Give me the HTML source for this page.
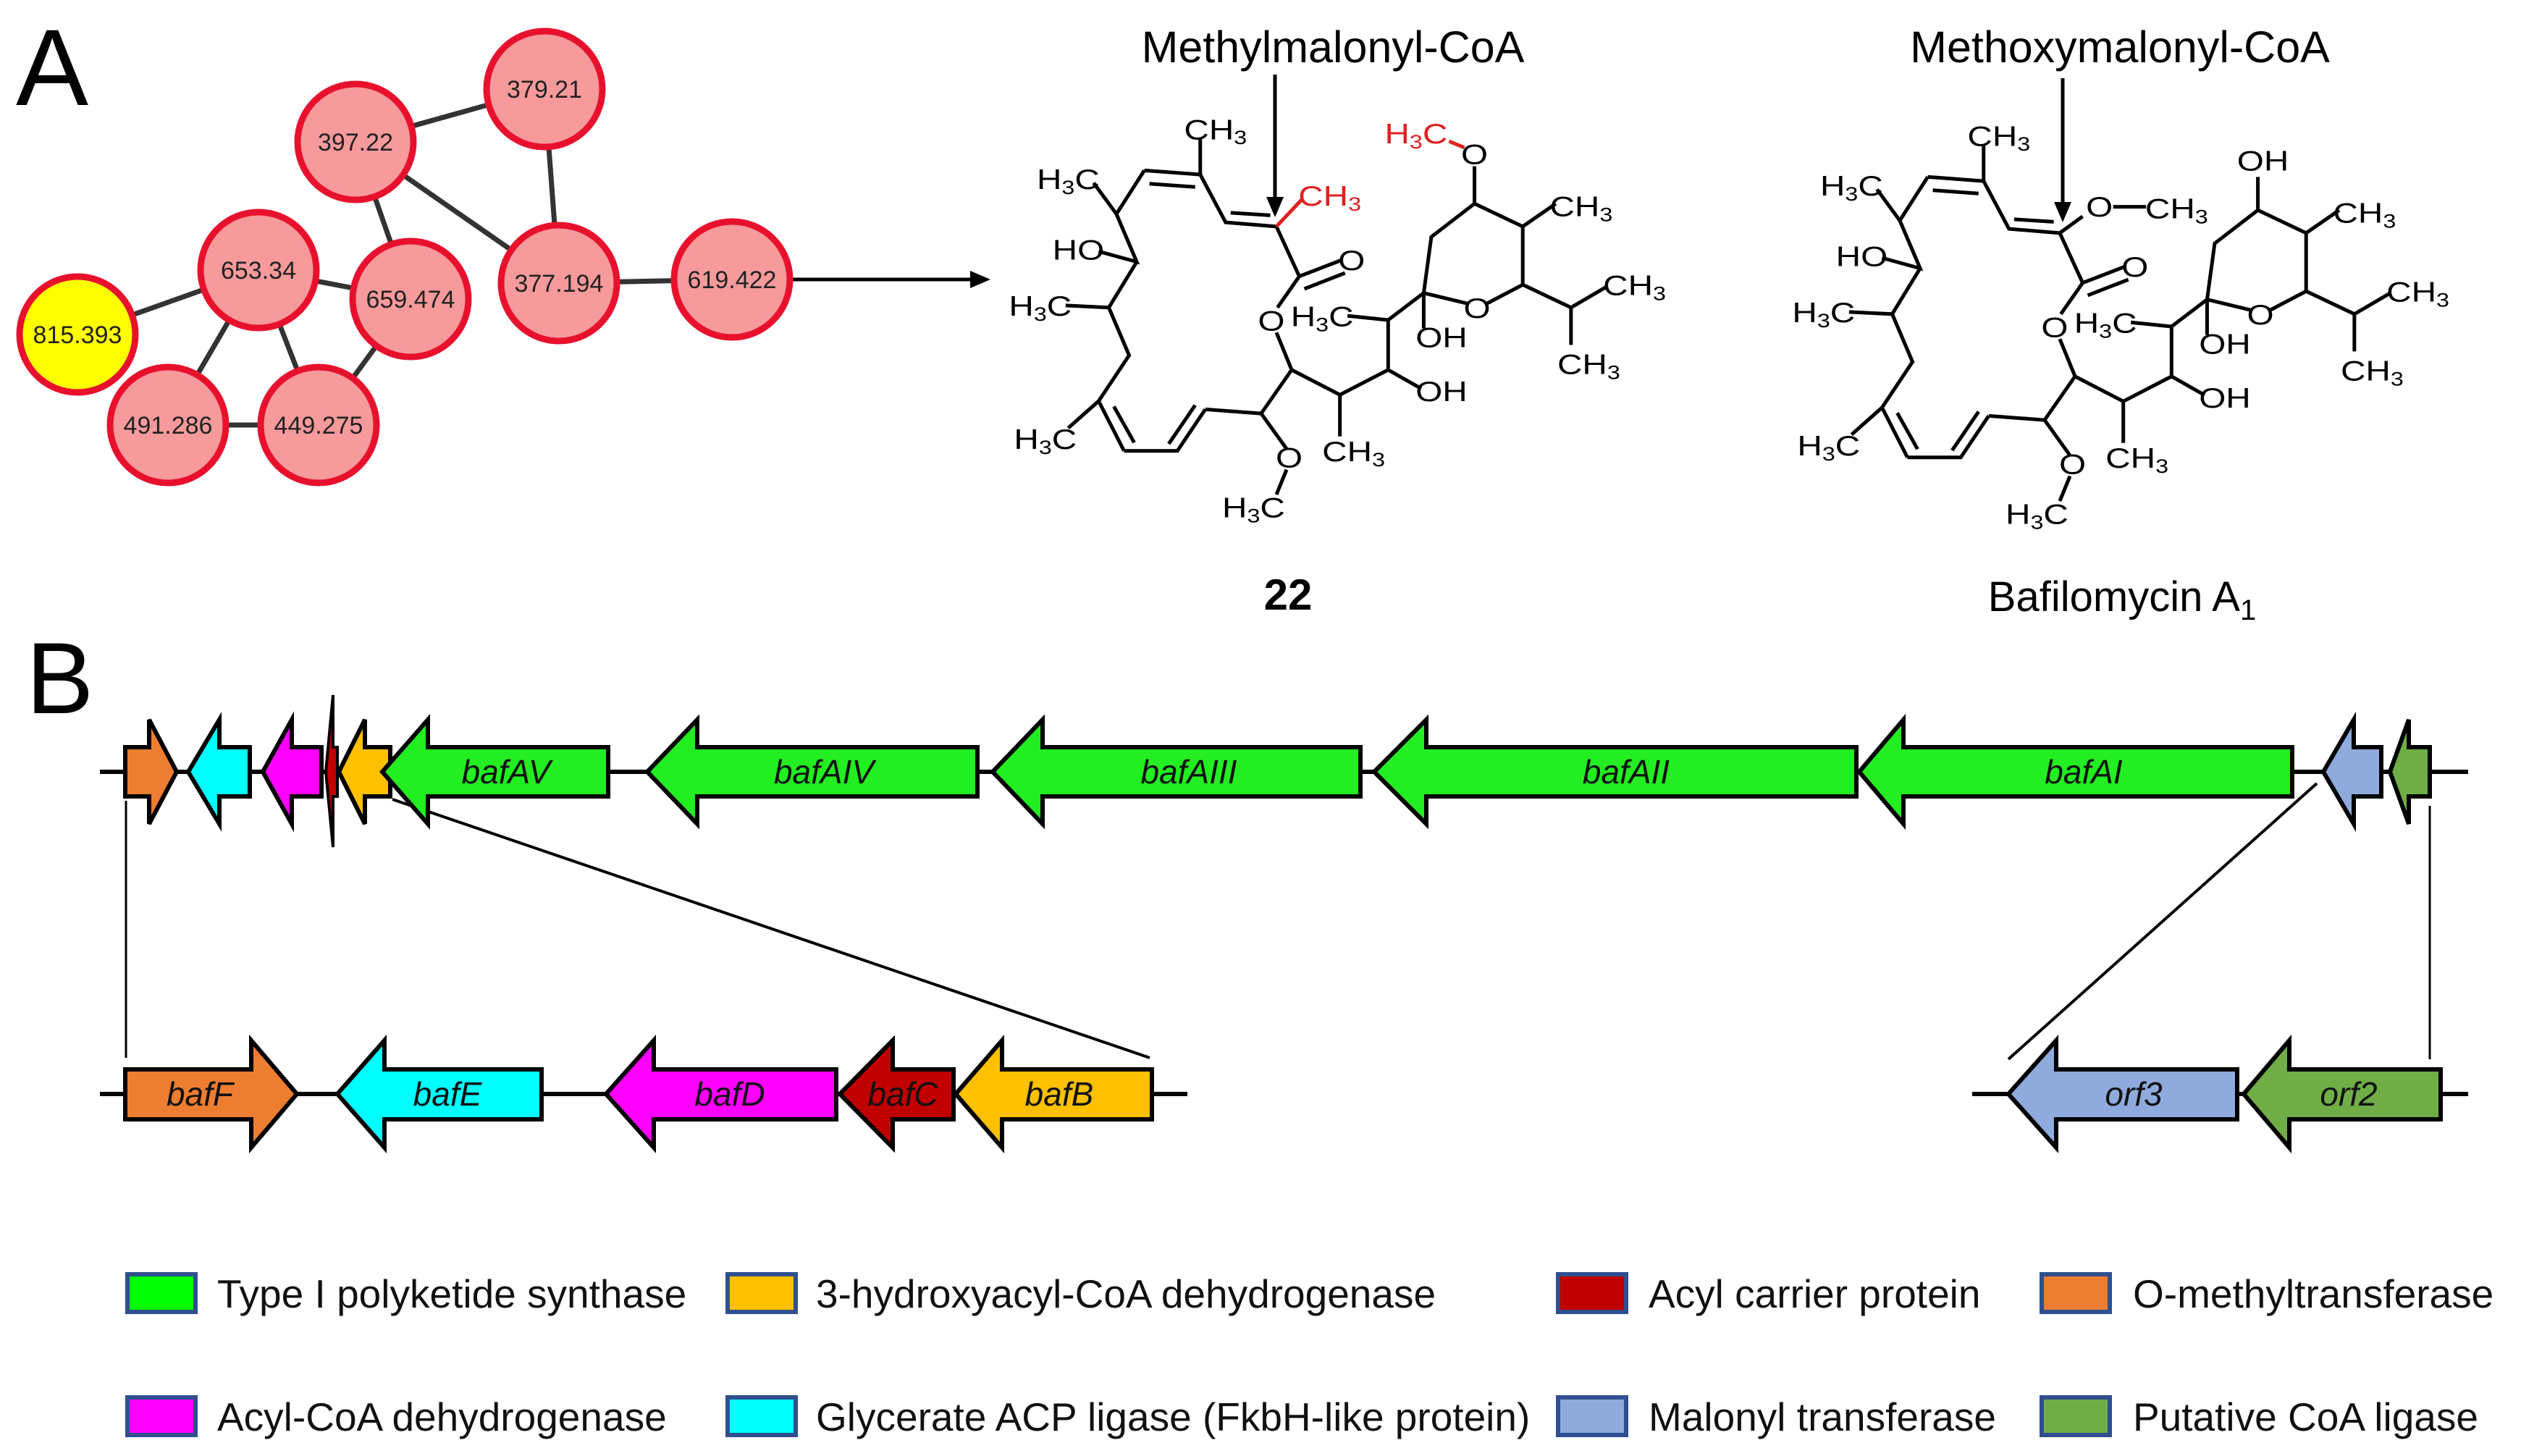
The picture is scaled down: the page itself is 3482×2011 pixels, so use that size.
<!DOCTYPE html>
<html><head><meta charset="utf-8"><style>
html,body{margin:0;padding:0;background:#fff;}
svg{display:block;}
text{font-family:"Liberation Sans",sans-serif;}
</style></head><body>
<svg width="3482" height="2011" viewBox="0 0 3482 2011" xmlns="http://www.w3.org/2000/svg">
<!-- Panel labels -->
<text x="22" y="145" font-size="150" fill="#000">A</text>
<text x="36" y="985" font-size="140" fill="#000">B</text>

<!-- Network edges -->
<g stroke="#333" stroke-width="7">
<line x1="491" y1="196" x2="752" y2="123"/>
<line x1="491" y1="196" x2="772" y2="391"/>
<line x1="491" y1="196" x2="567" y2="413"/>
<line x1="752" y1="123" x2="772" y2="391"/>
<line x1="357" y1="373" x2="107" y2="462"/>
<line x1="357" y1="373" x2="567" y2="413"/>
<line x1="357" y1="373" x2="232" y2="587"/>
<line x1="357" y1="373" x2="440" y2="587"/>
<line x1="567" y1="413" x2="440" y2="587"/>
<line x1="232" y1="587" x2="440" y2="587"/>
<line x1="772" y1="391" x2="1011" y2="386"/>
</g>
<line x1="1011" y1="386" x2="1345" y2="386" stroke="#000" stroke-width="5"/>
<path d="M1340,374 L1368,386 L1340,398 z" fill="#000"/>
<g stroke="#e8112d" stroke-width="9" fill="#f69a9c">
<circle cx="752" cy="123" r="80"/>
<circle cx="491" cy="196" r="80"/>
<circle cx="357" cy="373" r="80"/>
<circle cx="567" cy="413" r="80"/>
<circle cx="772" cy="391" r="80"/>
<circle cx="1011" cy="386" r="80"/>
<circle cx="107" cy="462" r="80" fill="#ffff00"/>
<circle cx="232" cy="587" r="80"/>
<circle cx="440" cy="587" r="80"/>
</g>
<g font-size="34" text-anchor="middle" fill="#222">
<text x="752" y="135">379.21</text>
<text x="491" y="208">397.22</text>
<text x="357" y="385">653.34</text>
<text x="567" y="425">659.474</text>
<text x="772" y="403">377.194</text>
<text x="1011" y="398">619.422</text>
<text x="107" y="474">815.393</text>
<text x="232" y="599">491.286</text>
<text x="440" y="599">449.275</text>
</g>

<!-- Titles -->
<text x="1841" y="86" font-size="61" text-anchor="middle">Methylmalonyl-CoA</text>
<text x="2928" y="86" font-size="61" text-anchor="middle">Methoxymalonyl-CoA</text>
<line x1="1761" y1="103" x2="1761" y2="275" stroke="#000" stroke-width="5"/>
<path d="M1749,272 L1773,272 L1761,300 z" fill="#000"/>
<line x1="2849" y1="108" x2="2849" y2="282" stroke="#000" stroke-width="5"/>
<path d="M2837,279 L2861,279 L2849,307 z" fill="#000"/>
<text x="1779" y="842" font-size="60" font-weight="bold" text-anchor="middle">22</text>
<text x="2931" y="844" font-size="58" text-anchor="middle">Bafilomycin A<tspan font-size="40" dy="12">1</tspan></text>

<!-- Structure 22 -->
<g transform="translate(1300,0) scale(0.7015,0.574)">
<g stroke="#000" stroke-width="5" fill="none">
<path vector-effect="non-scaling-stroke" d="M510,420 L510,335 M510,420 L400,410 M410,442 L500,450 M400,410 L345,515 L300,440 M345,515 L385,630 L310,605 M385,630 L330,740 L245,735 M330,740 L370,855 L310,965 L250,1030 M310,965 L360,1085 M340,978 L380,1065 M360,1085 L465,1085 L520,985 M448,1068 L500,975 M520,985 L630,995 L680,1080 M680,1130 L660,1190 M630,995 L690,890 L660,800 M662,740 L705,665 L790,625 M715,695 L795,657 M705,665 L660,545 L560,535 L510,420 M570,512 L648,518 M690,890 L785,950 L785,1050 M785,950 L880,890 L945,935 M880,890 L880,770 L800,760 M880,770 L950,705 L950,790 M950,705 L965,570 L1050,490 L1050,400 M1050,490 L1145,545 L1210,490 M1145,545 L1145,685 L1075,730 M1035,730 L950,705 M1145,685 L1240,740 L1310,690 M1240,740 L1240,830"/>
<path vector-effect="non-scaling-stroke" stroke="#e02020" d="M660,545 L710,480 M1000,340 L1030,355"/>
</g>
<g font-size="68" fill="#000" text-anchor="middle">
<text x="540" y="335">CH<tspan font-size="46" dy="12">3</tspan></text>
<text x="250" y="455">H<tspan font-size="46" dy="12">3</tspan><tspan dy="-12">C</tspan></text>
<text x="270" y="625">HO</text>
<text x="195" y="760">H<tspan font-size="46" dy="12">3</tspan><tspan dy="-12">C</tspan></text>
<text x="205" y="1080">H<tspan font-size="46" dy="12">3</tspan><tspan dy="-12">C</tspan></text>
<text x="685" y="1125">O</text>
<text x="615" y="1245">H<tspan font-size="46" dy="12">3</tspan><tspan dy="-12">C</tspan></text>
<text x="650" y="795">O</text>
<text x="808" y="650">O</text>
<text x="750" y="785">H<tspan font-size="46" dy="12">3</tspan><tspan dy="-12">C</tspan></text>
<text x="985" y="965">OH</text>
<text x="985" y="835">OH</text>
<text x="1055" y="765">O</text>
<text x="1260" y="520">CH<tspan font-size="46" dy="12">3</tspan></text>
<text x="1365" y="710">CH<tspan font-size="46" dy="12">3</tspan></text>
<text x="1275" y="900">CH<tspan font-size="46" dy="12">3</tspan></text>
<text x="812" y="1110">CH<tspan font-size="46" dy="12">3</tspan></text>
<text x="1050" y="395">O</text>
<text x="765" y="495" fill="#e02020">CH<tspan font-size="46" dy="12">3</tspan></text>
<text x="935" y="345" fill="#e02020">H<tspan font-size="46" dy="12">3</tspan><tspan dy="-12">C</tspan></text>
</g>
</g>

<!-- Bafilomycin -->
<g transform="translate(2382,9) scale(0.7015,0.574)">
<g stroke="#000" stroke-width="5" fill="none">
<path vector-effect="non-scaling-stroke" d="M510,420 L510,335 M510,420 L400,410 M410,442 L500,450 M400,410 L345,515 L300,440 M345,515 L385,630 L310,605 M385,630 L330,740 L245,735 M330,740 L370,855 L310,965 L250,1030 M310,965 L360,1085 M340,978 L380,1065 M360,1085 L465,1085 L520,985 M448,1068 L500,975 M520,985 L630,995 L680,1080 M680,1130 L660,1190 M630,995 L690,890 L660,800 M662,740 L705,665 L790,625 M715,695 L795,657 M705,665 L660,545 L560,535 L510,420 M570,512 L648,518 M690,890 L785,950 L785,1050 M785,950 L880,890 L945,935 M880,890 L880,770 L800,760 M880,770 L950,705 L950,790 M950,705 L965,570 L1050,490 L1050,410 M1050,490 L1145,545 L1210,490 M1145,545 L1145,685 L1075,730 M1035,730 L950,705 M1145,685 L1240,740 L1310,690 M1240,740 L1240,830 M660,545 L705,505 M765,482 L830,482"/>
</g>
<g font-size="68" fill="#000" text-anchor="middle">
<text x="540" y="335">CH<tspan font-size="46" dy="12">3</tspan></text>
<text x="250" y="455">H<tspan font-size="46" dy="12">3</tspan><tspan dy="-12">C</tspan></text>
<text x="270" y="625">HO</text>
<text x="195" y="760">H<tspan font-size="46" dy="12">3</tspan><tspan dy="-12">C</tspan></text>
<text x="205" y="1080">H<tspan font-size="46" dy="12">3</tspan><tspan dy="-12">C</tspan></text>
<text x="685" y="1125">O</text>
<text x="615" y="1245">H<tspan font-size="46" dy="12">3</tspan><tspan dy="-12">C</tspan></text>
<text x="650" y="795">O</text>
<text x="808" y="650">O</text>
<text x="750" y="785">H<tspan font-size="46" dy="12">3</tspan><tspan dy="-12">C</tspan></text>
<text x="985" y="965">OH</text>
<text x="985" y="835">OH</text>
<text x="1055" y="765">O</text>
<text x="1260" y="520">CH<tspan font-size="46" dy="12">3</tspan></text>
<text x="1365" y="710">CH<tspan font-size="46" dy="12">3</tspan></text>
<text x="1275" y="900">CH<tspan font-size="46" dy="12">3</tspan></text>
<text x="812" y="1110">CH<tspan font-size="46" dy="12">3</tspan></text>
<text x="1060" y="395">OH</text>
<text x="738" y="505">O</text>
<text x="890" y="510">CH<tspan font-size="46" dy="12">3</tspan></text>
</g>
</g>

<!-- Panel B -->
<g stroke="#000" stroke-width="6">
<line x1="138" y1="1066" x2="3409" y2="1066"/>
<line x1="138" y1="1511" x2="1640" y2="1511"/>
<line x1="2724" y1="1511" x2="3409" y2="1511"/>
</g>
<g stroke="#000" stroke-width="3">
<line x1="174" y1="1106" x2="174" y2="1461"/>
<line x1="542" y1="1104" x2="1588" y2="1461" stroke-width="4"/>
<line x1="3200" y1="1082" x2="2774" y2="1463" stroke-width="4"/>
<line x1="3356" y1="1113" x2="3356" y2="1463"/>
</g>
<g stroke="#000" stroke-width="6" stroke-linejoin="miter">
<path d="M173,1032 L206,1032 L206,994 L244,1066 L206,1138 L206,1100 L173,1100 z" fill="#ed7d31"/>
<path d="M260,1066 L303,994 L303,1032 L345,1032 L345,1100 L303,1100 L303,1138 z" fill="#00ffff"/>
<path d="M363,1066 L403,994 L403,1032 L444,1032 L444,1100 L403,1100 L403,1138 z" fill="#ff00ff"/>
<path d="M450,1066 L460,960 L460,1032 L466,1032 L466,1100 L460,1100 L460,1170 z" fill="#c00000" stroke-width="4"/>
<path d="M468,1066 L504,994 L504,1032 L539,1032 L539,1100 L504,1100 L504,1138 z" fill="#ffc000"/>
<path d="M528,1066 L591,994 L591,1032 L840,1032 L840,1100 L591,1100 L591,1138 z" fill="#22ee22"/>
<path d="M894,1066 L963,994 L963,1032 L1350,1032 L1350,1100 L963,1100 L963,1138 z" fill="#22ee22"/>
<path d="M1371,1066 L1440,994 L1440,1032 L1879,1032 L1879,1100 L1440,1100 L1440,1138 z" fill="#22ee22"/>
<path d="M1898,1066 L1970,994 L1970,1032 L2564,1032 L2564,1100 L1970,1100 L1970,1138 z" fill="#22ee22"/>
<path d="M2568,1066 L2629,994 L2629,1032 L3166,1032 L3166,1100 L2629,1100 L2629,1138 z" fill="#22ee22"/>
<path d="M3209,1066 L3251,994 L3251,1032 L3289,1032 L3289,1100 L3251,1100 L3251,1138 z" fill="#8faadc"/>
<path d="M3301,1066 L3327,994 L3327,1032 L3356,1032 L3356,1100 L3327,1100 L3327,1138 z" fill="#70ad47"/>
<path d="M173,1477 L347,1477 L347,1437 L410,1511 L347,1585 L347,1546 L173,1546 z" fill="#ed7d31"/>
<path d="M466,1511 L531,1437 L531,1477 L748,1477 L748,1546 L531,1546 L531,1585 z" fill="#00ffff"/>
<path d="M837,1511 L903,1437 L903,1477 L1155,1477 L1155,1546 L903,1546 L903,1585 z" fill="#ff00ff"/>
<path d="M1160,1511 L1233,1437 L1233,1477 L1317,1477 L1317,1546 L1233,1546 L1233,1585 z" fill="#c00000"/>
<path d="M1320,1511 L1384,1437 L1384,1477 L1591,1477 L1591,1546 L1384,1546 L1384,1585 z" fill="#ffc000"/>
<path d="M2774,1511 L2840,1437 L2840,1477 L3090,1477 L3090,1546 L2840,1546 L2840,1585 z" fill="#8faadc"/>
<path d="M3099,1511 L3162,1437 L3162,1477 L3371,1477 L3371,1546 L3162,1546 L3162,1585 z" fill="#70ad47"/>
</g>
<g font-size="46" font-style="italic" text-anchor="middle" fill="#111">
<text x="699" y="1082">bafAV</text>
<text x="1138" y="1082">bafAIV</text>
<text x="1642" y="1082">bafAIII</text>
<text x="2246" y="1082">bafAII</text>
<text x="2878" y="1082">bafAI</text>
<text x="276" y="1527">bafF</text>
<text x="618" y="1527">bafE</text>
<text x="1008" y="1527">bafD</text>
<text x="1247" y="1527">bafC</text>
<text x="1463" y="1527">bafB</text>
<text x="2947" y="1527">orf3</text>
<text x="3244" y="1527">orf2</text>
</g>

<!-- Legend -->
<g stroke="#2f4f8f" stroke-width="6">
<rect x="176" y="1760" width="94" height="52" fill="#00ff00"/>
<rect x="1005" y="1760" width="94" height="52" fill="#ffc000"/>
<rect x="2152" y="1760" width="94" height="52" fill="#c00000"/>
<rect x="2820" y="1760" width="94" height="52" fill="#ed7d31"/>
<rect x="176" y="1930" width="94" height="52" fill="#ff00ff"/>
<rect x="1005" y="1930" width="94" height="52" fill="#00ffff"/>
<rect x="2152" y="1930" width="94" height="52" fill="#8faadc"/>
<rect x="2820" y="1930" width="94" height="52" fill="#70ad47"/>
</g>
<g font-size="55" fill="#111">
<text x="300" y="1806">Type I polyketide synthase</text>
<text x="1127" y="1806">3-hydroxyacyl-CoA dehydrogenase</text>
<text x="2277" y="1806">Acyl carrier protein</text>
<text x="2946" y="1806">O-methyltransferase</text>
<text x="300" y="1976">Acyl-CoA dehydrogenase</text>
<text x="1127" y="1976">Glycerate ACP ligase (FkbH-like protein)</text>
<text x="2277" y="1976">Malonyl transferase</text>
<text x="2946" y="1976">Putative CoA ligase</text>
</g>
</svg>
</body></html>
